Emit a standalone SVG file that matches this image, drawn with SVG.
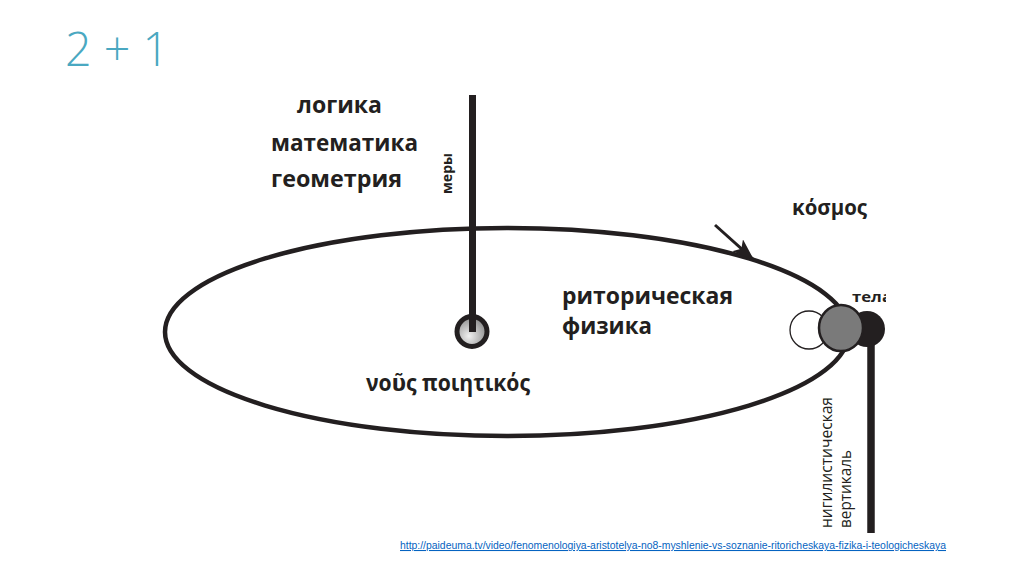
<svg xmlns="http://www.w3.org/2000/svg" width="1024" height="574" viewBox="0 0 1024 574">
<style>
.b{font-family:"Open Sans","DejaVu Sans",sans-serif;font-weight:700;fill:#231f20}
.r{font-family:"Open Sans","DejaVu Sans",sans-serif;font-weight:400;fill:#231f20}
.ln{stroke:#231f20;fill:none}
</style>
<defs>
<radialGradient id="g1" cx="0.4" cy="0.65" r="0.75">
<stop offset="0" stop-color="#f0f0f0"/>
<stop offset="1" stop-color="#7a7a7a"/>
</radialGradient>
<marker id="ah" viewBox="0 0 22 16" refX="22" refY="8" markerWidth="22" markerHeight="16" markerUnits="userSpaceOnUse" orient="auto">
<path d="M0,0 L22,8 L0,16 L5,8 Z" fill="#231f20"/>
</marker>
<clipPath id="cTela"><rect x="840" y="280" width="46" height="30"/></clipPath>
</defs>
<rect width="1024" height="574" fill="#fff"/>
<text x="65" y="66" font-family="'Open Sans','Lato',sans-serif" font-weight="300" font-size="48" fill="#4aa8c1" textLength="104" lengthAdjust="spacingAndGlyphs">2 + 1</text>

<g id="connectors">
<ellipse class="ln" cx="507" cy="332" rx="342" ry="104" stroke-width="4.5"/>
<line class="ln" x1="472.5" y1="95" x2="472.5" y2="332" stroke-width="7"/>
<line class="ln" x1="871" y1="335" x2="871" y2="533" stroke-width="7.5"/>
<line class="ln" x1="715" y1="225" x2="754" y2="260" stroke-width="3" marker-end="url(#ah)"/>
</g>

<g id="nous">
<circle cx="472" cy="331.5" r="15" fill="url(#g1)" stroke="#231f20" stroke-width="5"/>
<line class="ln" x1="472.5" y1="318" x2="472.5" y2="332" stroke-width="7"/>
</g>

<g id="bodies">
<circle cx="809" cy="330" r="19" fill="#fff" stroke="#231f20" stroke-width="1.3"/>
<circle cx="867" cy="329" r="18" fill="#231f20"/>
<ellipse cx="841" cy="328" rx="22" ry="23" fill="#7a7a7a" stroke="#231f20" stroke-width="2.5"/>
</g>

<g id="labels">
<text class="b" x="297" y="113" font-size="24" textLength="85" lengthAdjust="spacingAndGlyphs">логика</text>
<text class="b" x="271" y="151" font-size="24" textLength="147" lengthAdjust="spacingAndGlyphs">математика</text>
<text class="b" x="271" y="187" font-size="24" textLength="131" lengthAdjust="spacingAndGlyphs">геометрия</text>
<text class="b" transform="translate(452,194) rotate(-90)" font-size="15" textLength="41" lengthAdjust="spacingAndGlyphs">меры</text>
<text class="b" x="792" y="215" font-size="21" textLength="75" lengthAdjust="spacingAndGlyphs">κόσμος</text>
<text class="b" x="562" y="304" font-size="24" textLength="171" lengthAdjust="spacingAndGlyphs">риторическая</text>
<text class="b" x="562" y="334" font-size="24" textLength="90" lengthAdjust="spacingAndGlyphs">физика</text>
<text class="b" x="366" y="391" font-size="23" textLength="164" lengthAdjust="spacingAndGlyphs">νοῦς ποιητικός</text>
<text class="b" x="852" y="302" font-size="14" clip-path="url(#cTela)" textLength="40" lengthAdjust="spacingAndGlyphs">тела</text>
<text class="r" transform="translate(832,528) rotate(-90)" font-size="16" textLength="131" lengthAdjust="spacingAndGlyphs">нигилистическая</text>
<text class="r" transform="translate(851,528) rotate(-90)" font-size="16" textLength="78" lengthAdjust="spacingAndGlyphs">вертикаль</text>
</g>

<text x="400" y="549" font-family="'Liberation Sans',sans-serif" font-size="10.5" fill="#0563c1" text-decoration="underline" textLength="546" lengthAdjust="spacingAndGlyphs">http://paideuma.tv/video/fenomenologiya-aristotelya-no8-myshlenie-vs-soznanie-ritoricheskaya-fizika-i-teologicheskaya</text>
</svg>
